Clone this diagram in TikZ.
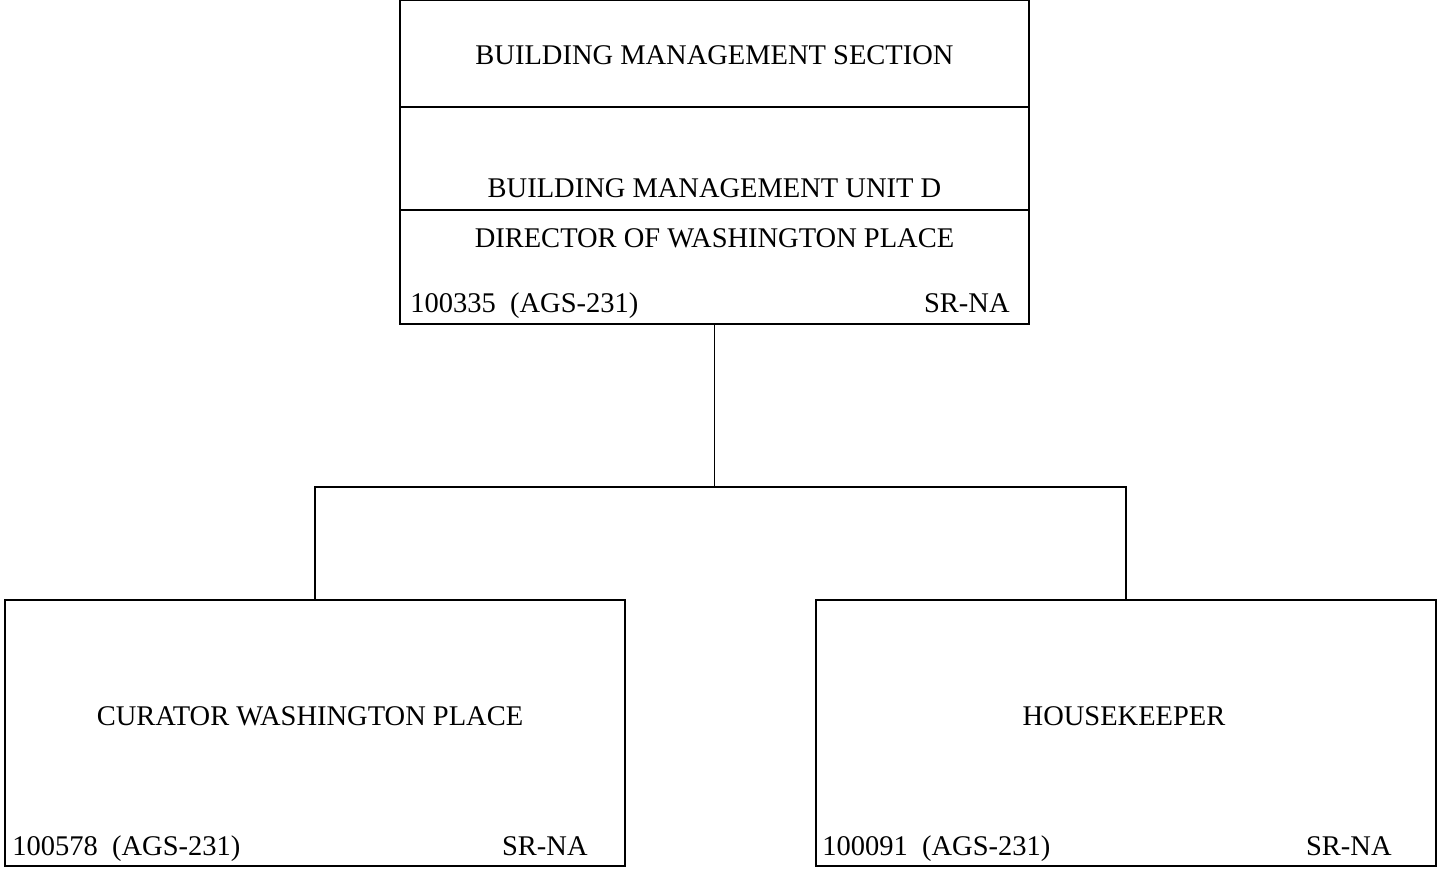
\documentclass[tikz,border=0pt]{standalone}
\usepackage{fontspec}
\setmainfont{Liberation Serif}
\usepackage{tikz}
\usetikzlibrary{positioning}

\begin{document}
\begin{tikzpicture}[
x=0.5pt, y=-0.5pt,
every node/.style={font=\fontsize{14.25}{17}\selectfont},
box/.style={draw, line width=0.8pt, inner sep=0pt},
topbox/.style={box, minimum width=314.5pt},
lowbox/.style={box, minimum width=310pt, minimum height=133pt},
title/.style={anchor=base, inner sep=0pt},
code/.style={anchor=base west, inner sep=0pt},
grade/.style={anchor=base east, inner sep=0pt},
line/.style={line width=0.8pt}
]
\useasboundingbox (0,0) rectangle (1438,869);

% top block
\node (section) [topbox, minimum height=53.5pt] at (714.5,53.5) {};
\node (unit) [topbox, minimum height=51.5pt] at (714.5,158.5) {};
\node (director) [topbox, minimum height=57pt] at (714.5,267) {};
\node (secname) [title] at (714.5,64) {BUILDING MANAGEMENT SECTION};
\node (unitname) [title] at (714.5,197) {BUILDING MANAGEMENT UNIT D};
\node (dirname) [title] at (714.5,247) {DIRECTOR OF WASHINGTON PLACE};
\node (dircode) [code] at (410,312) {100335~~(AGS-231)};
\node (dirgrade) [grade] at (1010,312) {SR-NA};

% lower boxes
\node (curator) [lowbox] at (315,733) {};
\node (curname) [title] at (310,725) {CURATOR WASHINGTON PLACE};
\node (curcode) [code] at (12,855) {100578~~(AGS-231)};
\node (curgrade) [grade] at (588,855) {SR-NA};

\node (keeper) [lowbox] at (1126,733) {};
\node (keepname) [title] at (1124,725) {HOUSEKEEPER};
\node (keepcode) [code] at (822,855) {100091~~(AGS-231)};
\node (keepgrade) [grade] at (1392,855) {SR-NA};

% connectors
\coordinate (junc) at (714.5,487);
\draw[line] (director.south) -- (junc);
\draw[line] (curator.north) |- (junc) -| (keeper.north);

\end{tikzpicture}
\end{document}
